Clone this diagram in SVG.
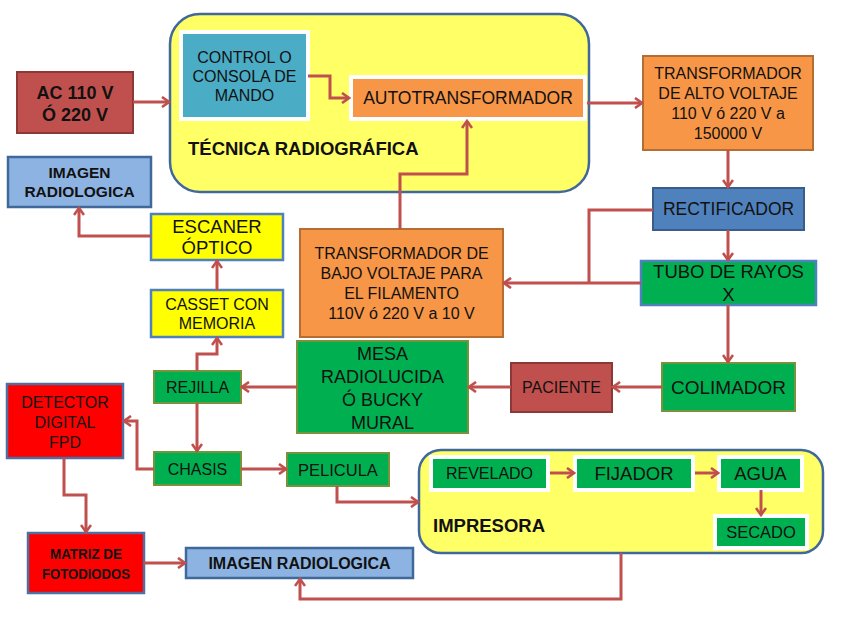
<svg xmlns="http://www.w3.org/2000/svg" width="848" height="636" viewBox="0 0 848 636">
<style>
text{font-family:"Liberation Sans",Arial,sans-serif;fill:#111;text-anchor:middle}
.b{font-weight:bold}
.cont{fill:#FFFF66;stroke:#41689A;stroke-width:2.5}
.inner{stroke:#fff;stroke-width:4}
.org{fill:#F79646;stroke:#B66D31;stroke-width:2}
.red{fill:#C0504D;stroke:#8C3836;stroke-width:2}
.bri{fill:#FF0000;stroke:#4F6FA0;stroke-width:2.5}
.lb{fill:#8DB3E2;stroke:#41689A;stroke-width:2.5}
.grn{fill:#00B050;stroke:#77933C;stroke-width:2}
.grb{fill:#00B050;stroke:#4F81BD;stroke-width:2.5}
.yel{fill:#FFFF00;stroke:#4F81BD;stroke-width:2.5}
.blu{fill:#4F81BD;stroke:#385D8A;stroke-width:2}
.c path{fill:none;stroke:#C0504D;stroke-width:3}
</style>
<defs>
<marker id="ah" viewBox="0 0 12 12" refX="10" refY="6" markerWidth="12" markerHeight="12" markerUnits="userSpaceOnUse" orient="auto">
<path d="M3,1 L10,6 L3,11" fill="none" stroke="#C0504D" stroke-width="2.6"/>
</marker>
</defs>

<g id="tecnica">
<rect class="cont" x="170" y="14" width="419" height="178" rx="30"/>
<text class="b" x="188" y="155" font-size="18.5" style="text-anchor:start">TÉCNICA RADIOGRÁFICA</text>
</g>
<g id="control">
<rect class="inner" x="181" y="32" width="127" height="87" fill="#4BACC6"/>
<text font-size="16" x="244.5"><tspan x="244.5" y="63">CONTROL O</tspan><tspan x="244.5" y="82">CONSOLA DE</tspan><tspan x="244.5" y="101">MANDO</tspan></text>
</g>
<g id="autotransformador">
<rect class="inner" x="351" y="77" width="234" height="42" fill="#F79646"/>
<text font-size="17.5" x="468" y="104">AUTOTRANSFORMADOR</text>
</g>
<g id="ac">
<rect class="red" x="17" y="72" width="116" height="61"/>
<text class="b" font-size="18"><tspan x="75" y="99">AC 110 V</tspan><tspan x="75" y="121">Ó 220 V</tspan></text>
</g>
<g id="imagen1">
<rect class="lb" x="8" y="157" width="143" height="50"/>
<text class="b" font-size="15.5"><tspan x="79.5" y="178">IMAGEN</tspan><tspan x="79.5" y="197">RADIOLOGICA</tspan></text>
</g>
<g id="alto">
<rect class="org" x="643" y="56" width="170" height="94"/>
<text font-size="16"><tspan x="728" y="79">TRANSFORMADOR</tspan><tspan x="728" y="99">DE ALTO VOLTAJE</tspan><tspan x="728" y="119">110 V ó 220 V a</tspan><tspan x="728" y="139">150000 V</tspan></text>
</g>
<g id="rectificador">
<rect class="blu" x="653" y="188" width="151" height="42"/>
<text font-size="17.5" x="728.5" y="215">RECTIFICADOR</text>
</g>
<g id="tubo">
<rect class="grb" x="641" y="261" width="175" height="44"/>
<text font-size="18.5"><tspan x="728.5" y="278">TUBO DE RAYOS</tspan><tspan x="728.5" y="301">X</tspan></text>
</g>
<g id="bajo">
<rect class="org" x="300" y="229" width="203" height="108"/>
<text font-size="16"><tspan x="401.5" y="259">TRANSFORMADOR DE</tspan><tspan x="401.5" y="279">BAJO VOLTAJE PARA</tspan><tspan x="401.5" y="299">EL FILAMENTO</tspan><tspan x="401.5" y="319">110V ó 220 V a 10 V</tspan></text>
</g>
<g id="colimador">
<rect class="grn" x="662" y="363" width="133" height="48"/>
<text font-size="19" x="728.5" y="394">COLIMADOR</text>
</g>
<g id="paciente">
<rect class="red" x="511" y="363" width="101" height="49"/>
<text font-size="16" x="561.5" y="393">PACIENTE</text>
</g>
<g id="mesa">
<rect class="grn" x="297" y="341" width="171" height="92"/>
<text font-size="18"><tspan x="382.5" y="360">MESA</tspan><tspan x="382.5" y="383">RADIOLUCIDA</tspan><tspan x="382.5" y="406">Ó BUCKY</tspan><tspan x="382.5" y="429">MURAL</tspan></text>
</g>
<g id="rejilla">
<rect class="grn" x="154" y="371" width="87" height="32"/>
<text font-size="16" x="197.5" y="393">REJILLA</text>
</g>
<g id="casset">
<rect class="yel" x="151" y="290" width="132" height="47"/>
<text font-size="16"><tspan x="217" y="310">CASSET CON</tspan><tspan x="217" y="329">MEMORIA</tspan></text>
</g>
<g id="escaner">
<rect class="yel" x="151" y="214" width="132" height="46"/>
<text font-size="18.5"><tspan x="217" y="233">ESCANER</tspan><tspan x="217" y="254">ÓPTICO</tspan></text>
</g>
<g id="detector">
<rect class="bri" x="7" y="384" width="116" height="74"/>
<text font-size="16"><tspan x="65" y="408">DETECTOR</tspan><tspan x="65" y="428">DIGITAL</tspan><tspan x="65" y="448">FPD</tspan></text>
</g>
<g id="chasis">
<rect class="grn" x="154" y="452" width="87" height="33"/>
<text font-size="16" x="197.5" y="474.5">CHASIS</text>
</g>
<g id="pelicula">
<rect class="grn" x="287" y="453" width="102" height="33"/>
<text font-size="16.5" x="338" y="475.5">PELICULA</text>
</g>
<g id="matriz">
<rect class="bri" x="28" y="533" width="116" height="60"/>
<text class="b" font-size="15.5" x="86" y="559" textLength="72" lengthAdjust="spacingAndGlyphs">MATRIZ DE</text>
<text class="b" font-size="15.5" x="86" y="579" textLength="88" lengthAdjust="spacingAndGlyphs">FOTODIODOS</text>
</g>
<g id="imagen2">
<rect class="lb" x="186" y="548" width="227" height="30"/>
<text class="b" font-size="16" x="299.5" y="569">IMAGEN RADIOLOGICA</text>
</g>
<g id="impresora">
<rect class="cont" x="419" y="450" width="404" height="103" rx="22"/>
<text class="b" font-size="18.5" x="433" y="532" style="text-anchor:start">IMPRESORA</text>
</g>
<g id="revelado">
<rect class="inner" x="431" y="457" width="117" height="33" fill="#00B050"/>
<text font-size="16" x="489.5" y="479">REVELADO</text>
</g>
<g id="fijador">
<rect class="inner" x="575" y="457" width="118" height="33" fill="#00B050"/>
<text font-size="18.5" x="634" y="480">FIJADOR</text>
</g>
<g id="agua">
<rect class="inner" x="719" y="457" width="83" height="33" fill="#00B050"/>
<text font-size="18.5" x="760.5" y="480">AGUA</text>
</g>
<g id="secado">
<rect class="inner" x="715" y="516" width="92" height="32" fill="#00B050"/>
<text font-size="16.5" x="761" y="538">SECADO</text>
</g>

<g id="connectors" class="c">
<path d="M133,102 H169" marker-end="url(#ah)"/>
<path d="M308,76 H330 V98 H349" marker-end="url(#ah)"/>
<path d="M587,103 H642" marker-end="url(#ah)"/>
<path d="M728,150 V187" marker-end="url(#ah)"/>
<path d="M728,230 V260" marker-end="url(#ah)"/>
<path d="M653,210 H589 V283"/>
<path d="M641,283 H504" marker-end="url(#ah)"/>
<path d="M400,229 V174 H467 V121" marker-end="url(#ah)"/>
<path d="M728,305 V362" marker-end="url(#ah)"/>
<path d="M662,387 H613" marker-end="url(#ah)"/>
<path d="M511,387 H469" marker-end="url(#ah)"/>
<path d="M297,387 H242" marker-end="url(#ah)"/>
<path d="M197,371 V354 H217 V338" marker-end="url(#ah)"/>
<path d="M217,290 V261" marker-end="url(#ah)"/>
<path d="M151,236 H79 V208" marker-end="url(#ah)"/>
<path d="M197,403 V451" marker-end="url(#ah)"/>
<path d="M154,469 H137 V421 H124" marker-end="url(#ah)"/>
<path d="M241,469 H286" marker-end="url(#ah)"/>
<path d="M337,486 V502 H418" marker-end="url(#ah)"/>
<path d="M64,458 V495 H86 V532" marker-end="url(#ah)"/>
<path d="M144,563 H185" marker-end="url(#ah)"/>
<path d="M621,553 V599 H300 V579" marker-end="url(#ah)"/>
<path d="M550,473 H574" marker-end="url(#ah)"/>
<path d="M695,473 H718" marker-end="url(#ah)"/>
<path d="M761,490 V515" marker-end="url(#ah)"/>
</g>
</svg>
